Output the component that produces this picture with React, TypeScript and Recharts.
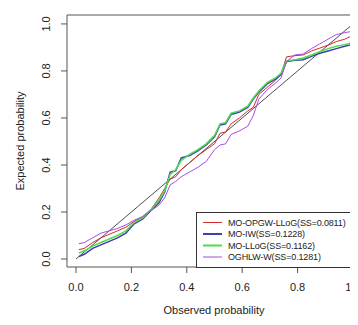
import React from 'react';
import { LineChart, Line, XAxis, YAxis, ReferenceLine, ReferenceArea } from 'recharts';

// observed probability (x) shared by all series
const obs = [0.01, 0.03, 0.06, 0.09, 0.12, 0.15, 0.18, 0.21, 0.24, 0.27, 0.3, 0.32, 0.34, 0.36, 0.38, 0.41, 0.44, 0.47, 0.5, 0.52, 0.54, 0.56, 0.59, 0.62, 0.64, 0.66, 0.69, 0.72, 0.74, 0.76, 0.79, 0.82, 0.85, 0.88, 0.91, 0.94, 0.97, 0.99];

// expected probability per model
const moOpgwLlog = [0.04, 0.045, 0.07, 0.09, 0.105, 0.12, 0.135, 0.16, 0.18, 0.21, 0.26, 0.3, 0.34, 0.35, 0.38, 0.41, 0.44, 0.465, 0.49, 0.535, 0.54, 0.575, 0.6, 0.63, 0.645, 0.7, 0.73, 0.76, 0.785, 0.86, 0.865, 0.868, 0.885, 0.897, 0.91, 0.925, 0.935, 0.946];
const moIw = [0.01, 0.02, 0.045, 0.06, 0.075, 0.09, 0.11, 0.15, 0.17, 0.205, 0.24, 0.285, 0.37, 0.375, 0.43, 0.44, 0.46, 0.485, 0.52, 0.57, 0.575, 0.615, 0.625, 0.645, 0.68, 0.71, 0.745, 0.765, 0.785, 0.84, 0.845, 0.848, 0.862, 0.875, 0.885, 0.895, 0.905, 0.911];
const moLlog = [0.025, 0.035, 0.055, 0.07, 0.085, 0.1, 0.12, 0.155, 0.175, 0.21, 0.25, 0.29, 0.36, 0.38, 0.42, 0.445, 0.465, 0.49, 0.525, 0.575, 0.58, 0.62, 0.63, 0.65, 0.685, 0.715, 0.75, 0.77, 0.79, 0.843, 0.848, 0.855, 0.868, 0.882, 0.895, 0.905, 0.912, 0.918];
const oghlwW = [0.065, 0.07, 0.09, 0.11, 0.12, 0.13, 0.145, 0.165, 0.18, 0.205, 0.23, 0.26, 0.315, 0.33, 0.35, 0.37, 0.39, 0.415, 0.465, 0.485, 0.49, 0.53, 0.545, 0.565, 0.61, 0.68, 0.72, 0.748, 0.77, 0.84, 0.868, 0.872, 0.895, 0.915, 0.935, 0.955, 0.963, 0.967];

const diagonal = [0, 1];
const xTicks = [0, 0.2, 0.4, 0.6, 0.8, 1];
const yTicks = [0, 0.2, 0.4, 0.6, 0.8, 1];

const seriesNames = ['MO-OPGW-LLoG(SS=0.0811)', 'MO-IW(SS=0.1228)', 'MO-LLoG(SS=0.1162)', 'OGHLW-W(SS=0.1281)'];

const series = [
  { key: 'a', name: seriesNames[0], values: moOpgwLlog, color: '#d42a2a', width: 1 },
  { key: 'b', name: seriesNames[1], values: moIw, color: '#3f3fae', width: 1.5 },
  { key: 'c', name: seriesNames[2], values: moLlog, color: '#4ddc4d', width: 1.5 },
  { key: 'd', name: seriesNames[3], values: oghlwW, color: '#a64ce6', width: 1 },
];

const data = obs.map((x, i) => {
  const row: Record<string, number> = { obs: x };
  series.forEach(s => { row[s.key] = s.values[i]; });
  return row;
});

const X_DOMAIN: [number, number] = [-0.0325, 1.0325];
const Y_DOMAIN: [number, number] = [-0.034, 1.038];
const FONT = '"Liberation Sans", Arial, sans-serif';
const TEXT = '#222';

const XTick = (props: any) => {
  const { x, y, payload } = props;
  return (
    <text x={x} y={y + 18} textAnchor="middle" fontSize={11} fontFamily={FONT} fill={TEXT}>
      {payload.value.toFixed(1)}
    </text>
  );
};

const YTick = (props: any) => {
  const { x, y, payload } = props;
  return (
    <text x={x} y={y} transform={`rotate(-90 ${x} ${y})`} textAnchor="middle" fontSize={11} fontFamily={FONT} fill={TEXT}>
      {payload.value.toFixed(1)}
    </text>
  );
};

// legend row centres, relative to the legend box
const legendRows = [10.5, 22, 33.5, 45];

export default function App() {
  return (
    <div style={{ position: 'relative', width: 358, height: 325, overflow: 'hidden', margin: -8, background: '#fff', fontFamily: FONT }}>
      <LineChart width={362} height={325} data={data} margin={{ top: 15, right: 0, bottom: 0, left: 0 }}>
        <XAxis
          type="number"
          dataKey="obs"
          domain={X_DOMAIN}
          ticks={xTicks}
          tick={<XTick />}
          tickSize={6}
          tickMargin={0}
          tickLine={{ stroke: '#555' }}
          axisLine={false}
          height={58}
          label={{
            content: () => (
              <text x={214} y={314} textAnchor="middle" fontSize={11} fontFamily={FONT} fill={TEXT}>
                Observed probability
              </text>
            ),
          }}
        />
        <YAxis
          type="number"
          domain={Y_DOMAIN}
          ticks={yTicks}
          tick={<YTick />}
          tickSize={6}
          tickMargin={11}
          tickLine={{ stroke: '#555' }}
          axisLine={false}
          width={67}
          label={{
            content: () => (
              <text x={24} y={141} transform="rotate(-90 24 141)" textAnchor="middle" fontSize={11} fontFamily={FONT} fill={TEXT}>
                Expected probability
              </text>
            ),
          }}
        />
        <ReferenceArea x1={X_DOMAIN[0]} x2={X_DOMAIN[1]} y1={Y_DOMAIN[0]} y2={Y_DOMAIN[1]} fill="none" stroke="#555" strokeWidth={1} ifOverflow="visible" />
        <ReferenceLine
          segment={[{ x: diagonal[0], y: diagonal[0] }, { x: diagonal[1], y: diagonal[1] }]}
          stroke="#222"
          strokeWidth={0.8}
          ifOverflow="visible"
        />
        {series.map(s => (
          <Line
            key={s.key}
            type="linear"
            dataKey={s.key}
            name={s.name}
            stroke={s.color}
            strokeWidth={s.width}
            dot={false}
            activeDot={false}
            isAnimationActive={false}
          />
        ))}
      </LineChart>
      <svg width={166} height={56} style={{ position: 'absolute', left: 196, top: 211.5 }}>
        <rect x={0.5} y={0.5} width={175} height={55} fill="#fff" stroke="#333" strokeWidth={1} />
        {series.map((s, i) => (
          <g key={s.key}>
            <line x1={7} x2={26} y1={legendRows[i]} y2={legendRows[i]} stroke={s.color} strokeWidth={s.width === 1 ? 1 : 2} />
            <text x={32} y={legendRows[i] + 3.3} fontSize={9} letterSpacing={-0.15} fontFamily={FONT} fill={TEXT}>
              {s.name}
            </text>
          </g>
        ))}
      </svg>
    </div>
  );
}
